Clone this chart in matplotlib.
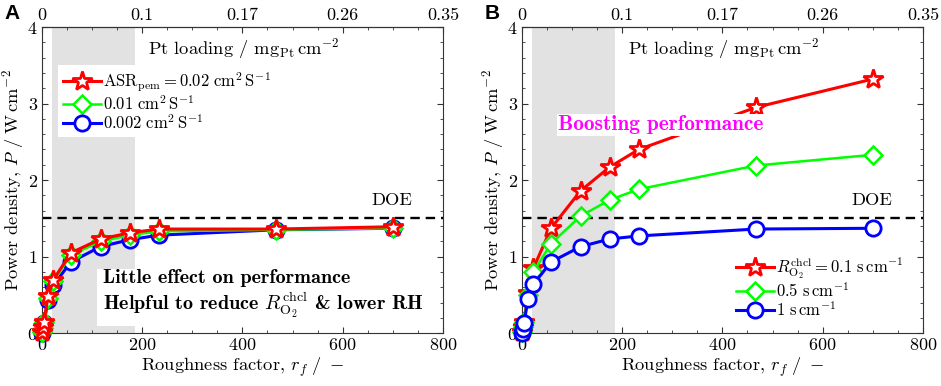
import matplotlib
matplotlib.use("Agg")
import matplotlib.pyplot as plt
from matplotlib.ticker import MultipleLocator

plt.rcParams['font.family'] = 'serif'
plt.rcParams['font.serif'] = ['cmr10']
plt.rcParams['mathtext.fontset'] = 'cm'
plt.rcParams['axes.formatter.use_mathtext'] = True
plt.rcParams['axes.unicode_minus'] = False

# roughness factor (shared x values)
rf = [1, 2, 4, 12, 23, 58, 117, 175, 233, 467, 700]
top_ticks = [0, 200, 400, 600, 800]
top_labels = ['0', '0.1', '0.17', '0.26', '0.35']

# panel A: membrane ASR
a_red = [0.02, 0.08, 0.15, 0.48, 0.70, 1.05, 1.23, 1.31, 1.36, 1.36, 1.39]
a_green = [0.01, 0.07, 0.14, 0.46, 0.68, 1.02, 1.20, 1.28, 1.33, 1.35, 1.37]
a_blue = [0.0, 0.06, 0.13, 0.43, 0.63, 0.93, 1.13, 1.22, 1.28, 1.35, 1.37]
a_labels = [r'$\mathrm{ASR_{pem}} = 0.02\ \mathrm{cm^2\,S^{-1}}$',
            r'$0.01\ \mathrm{cm^2\,S^{-1}}$',
            r'$0.002\ \mathrm{cm^2\,S^{-1}}$']

# panel B: channel O2 resistance
b_red = [0.02, 0.08, 0.15, 0.52, 0.85, 1.37, 1.86, 2.17, 2.40, 2.95, 3.32]
b_green = [0.02, 0.08, 0.14, 0.50, 0.80, 1.17, 1.53, 1.74, 1.88, 2.19, 2.33]
b_blue = [0.0, 0.06, 0.13, 0.44, 0.64, 0.93, 1.13, 1.23, 1.27, 1.36, 1.37]
b_labels = [r'$R_{\mathrm{O_2}}^{\mathrm{chcl}} = 0.1\ \mathrm{s\,cm^{-1}}$',
            r'$0.5\ \mathrm{s\,cm^{-1}}$',
            r'$1\ \mathrm{s\,cm^{-1}}$']

doe = 1.5
shade = (20, 185)

red = dict(color='#ff0000', marker='*', ms=15, mfc='white', mec='#ff0000', mew=2, lw=2.2, clip_on=False)
green = dict(color='#00ff00', marker='D', ms=9, mfc='white', mec='#00ff00', mew=1.8, lw=1.8, clip_on=False)
blue = dict(color='#0000ff', marker='o', ms=11, mfc='white', mec='#0000ff', mew=2, lw=2.2, clip_on=False)

fig = plt.figure(figsize=(9.41, 3.86), dpi=100)
axA = fig.add_axes([0.0446, 0.137, 0.426, 0.793])
axB = fig.add_axes([0.5547, 0.137, 0.426, 0.793])


def style(ax):
    ax.set_xlim(0, 800)
    ax.set_ylim(0, 4)
    ax.axvspan(shade[0], shade[1], color='#e2e2e2', lw=0, zorder=0)
    ax.axhline(doe, color='black', ls=(0, (4, 2.5)), lw=1.7, zorder=1)
    ax.set_xticks([0, 200, 400, 600, 800])
    ax.set_yticks([0, 1, 2, 3, 4])
    ax.xaxis.set_minor_locator(MultipleLocator(50))
    ax.yaxis.set_minor_locator(MultipleLocator(0.2))
    ax.tick_params(which='both', direction='in', top=False, right=True, color='#333333')
    ax.tick_params(which='major', length=4, labelsize=13, pad=3)
    ax.tick_params(which='minor', length=2)
    for s in ax.spines.values():
        s.set_color('#333333')
        s.set_linewidth(0.8)
    ax.set_xlabel(r'Roughness factor, $r_f\ /\ -$', fontsize=13.3, labelpad=2)
    ax.set_ylabel(r'Power density, $P\ /\ \mathrm{W\,cm^{-2}}$', fontsize=13.3, labelpad=1)
    top = ax.secondary_xaxis('top')
    top.set_xticks(top_ticks)
    top.set_xticklabels(top_labels)
    top.tick_params(which='both', direction='in', labelsize=13, length=4, pad=3, color='#333333')
    top.xaxis.set_minor_locator(MultipleLocator(50))
    top.tick_params(which='minor', length=2)
    ax.text(0.265, 0.93, r'Pt loading / $\mathrm{mg_{Pt}\,cm^{-2}}$', transform=ax.transAxes,
            fontsize=13.3, ha='left', va='center')
    ax.text(0.925, 1.74, 'DOE', ha='right', va='center', fontsize=13.3,
            transform=ax.get_yaxis_transform())


style(axA)
hb = axA.plot(rf, a_blue, zorder=3, **blue)[0]
hg = axA.plot(rf, a_green, zorder=4, **green)[0]
hr = axA.plot(rf, a_red, zorder=5, **red)[0]
legA = axA.legend([hr, hg, hb], a_labels, loc='upper left', bbox_to_anchor=(0.04, 0.875),
                  fontsize=12, frameon=True, fancybox=False, edgecolor='none', framealpha=1,
                  handlelength=2.3, handletextpad=0.1, labelspacing=0.0, borderpad=0.3,
                  borderaxespad=0)
axA.text(0.152, 0.125, 'Little effect on performance\nHelpful to reduce $R_{\\mathrm{O_2}}^{\\mathrm{chcl}}$ & lower RH',
         transform=axA.transAxes, fontfamily='cmb10', fontsize=14.5, ha='left', va='center',
         linespacing=1.2, zorder=6,
         bbox=dict(facecolor='white', edgecolor='none', pad=4))
axA.text(-0.093, 1.045, 'A', transform=axA.transAxes, fontsize=15, fontweight='bold',
         fontfamily='Liberation Sans', ha='left', va='center')

style(axB)
hr = axB.plot(rf, b_red, zorder=3, **red)[0]
hg = axB.plot(rf, b_green, zorder=4, **green)[0]
hb = axB.plot(rf, b_blue, zorder=5, **blue)[0]
legB = axB.legend([hr, hg, hb], b_labels, loc='lower right', bbox_to_anchor=(0.965, 0.03),
                  fontsize=12, frameon=True, fancybox=False, edgecolor='none', framealpha=1,
                  handlelength=2.3, handletextpad=0.1, labelspacing=0.0, borderpad=0.3,
                  borderaxespad=0)
axB.text(0.09, 0.68, 'Boosting performance', transform=axB.transAxes, fontfamily='cmb10',
         fontsize=15.3, color='#ff00ff', ha='left', va='center', zorder=6,
         bbox=dict(facecolor='white', edgecolor='none', pad=1))
axB.text(-0.093, 1.045, 'B', transform=axB.transAxes, fontsize=15, fontweight='bold',
         fontfamily='Liberation Sans', ha='left', va='center')

fig.savefig('out.png', dpi=100)
